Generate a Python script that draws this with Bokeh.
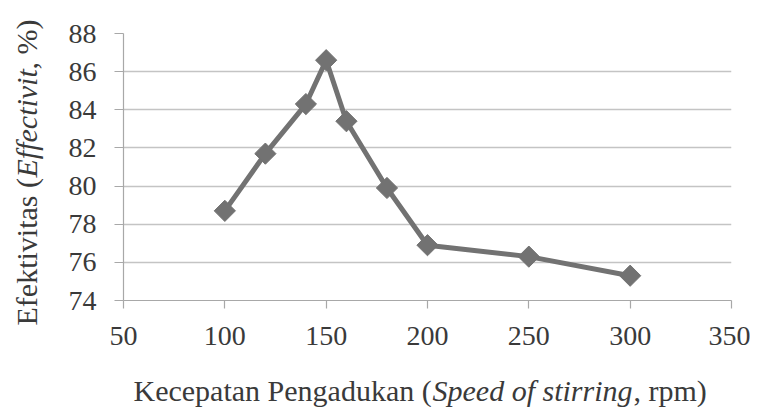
import numpy as np
from bokeh.plotting import figure
from bokeh.layouts import column, row
from bokeh.models import Range1d, FixedTicker
from bokeh.core.properties import value
from bokeh.embed import file_html
from bokeh.resources import INLINE

speed = [100, 120, 140, 150, 160, 180, 200, 250, 300]
effectivity = [78.7, 81.7, 84.3, 86.6, 83.4, 79.9, 76.9, 76.3, 75.3]
x_ticks = [50, 100, 150, 200, 250, 300, 350]
y_ticks = [74, 76, 78, 80, 82, 84, 86, 88]

x_title_parts = ["Kecepatan Pengadukan (", "Speed of stirring", ", rpm)"]
x_title_styles = ["normal", "italic", "normal"]
y_title_parts = ["Efektivitas (", "Effectivit", ", %)"]
y_title_styles = ["normal", "italic", "normal"]

FONT = "Liberation Serif"
TXT = "#3a3a3a"
SERIES = "#727272"

TOP_H = 355
YW = 50
MAIN_W = 700

# ---- main chart ----
p = figure(width=MAIN_W, height=TOP_H, output_backend="svg", toolbar_location=None,
           x_range=Range1d(50, 350), y_range=Range1d(74, 88),
           min_border_left=73, min_border_right=19, min_border_top=33, min_border_bottom=55)
p.outline_line_color = None
p.frame_align = False
p.xgrid.visible = False
p.ygrid.ticker = FixedTicker(ticks=y_ticks)
p.ygrid.grid_line_color = "#c4c4c4"
p.ygrid.grid_line_width = 1.5
for ax in (p.xaxis[0], p.yaxis[0]):
    ax.axis_line_color = "#a8a8a8"
    ax.axis_line_width = 1.2
    ax.major_tick_line_color = "#a8a8a8"
    ax.major_tick_line_width = 1.2
    ax.minor_tick_line_color = None
    ax.major_tick_in = 0
    ax.major_label_text_font = FONT
    ax.major_label_text_font_size = "28px"
    ax.major_label_text_color = TXT
p.xaxis.ticker = FixedTicker(ticks=x_ticks)
p.yaxis.ticker = FixedTicker(ticks=y_ticks)
p.xaxis.major_tick_out = 8
p.yaxis.major_tick_out = 9
p.xaxis.major_label_standoff = 18
p.yaxis.major_label_standoff = 18
p.line(speed, effectivity, line_color=SERIES, line_width=5)
p.scatter(speed, effectivity, marker="square", angle=np.pi / 4, size=15,
          fill_color=SERIES, line_color=SERIES)

# ---- y-axis title panel (rotated, mixed styles) ----
yf = figure(width=YW, height=TOP_H, output_backend="svg", toolbar_location=None,
            x_range=Range1d(0, YW), y_range=Range1d(0, TOP_H), title=None,
            min_border=0, x_axis_type=None, y_axis_type=None)
yf.frame_align = False
yf.outline_line_color = None
yf.grid.visible = False
y_starts = [325, 177, 69]  # pixels from top
for txt, style, ys in zip(y_title_parts, y_title_styles, y_starts):
    yf.text(x=[26], y=[TOP_H - ys], text=[txt], angle=np.pi / 2,
            text_font=value(FONT), text_font_style=style, text_font_size="30px",
            text_color=TXT, text_align="left", text_baseline="middle")

# ---- x-axis title panel ----
XH = 52
xf = figure(width=YW + MAIN_W, height=XH, output_backend="svg", toolbar_location=None,
            x_range=Range1d(0, YW + MAIN_W), y_range=Range1d(0, XH), title=None,
            min_border=0, x_axis_type=None, y_axis_type=None)
xf.frame_align = False
xf.outline_line_color = None
xf.grid.visible = False
x_starts = [133, 432, 633]
for txt, style, xs in zip(x_title_parts, x_title_styles, x_starts):
    xf.text(x=[xs], y=[17], text=[txt],
            text_font=value(FONT), text_font_style=style, text_font_size="30px",
            text_color=TXT, text_align="left", text_baseline="middle")

layout = column(row(yf, p, spacing=0), xf, spacing=0)
open("out.html", "w").write(file_html(layout, INLINE))
